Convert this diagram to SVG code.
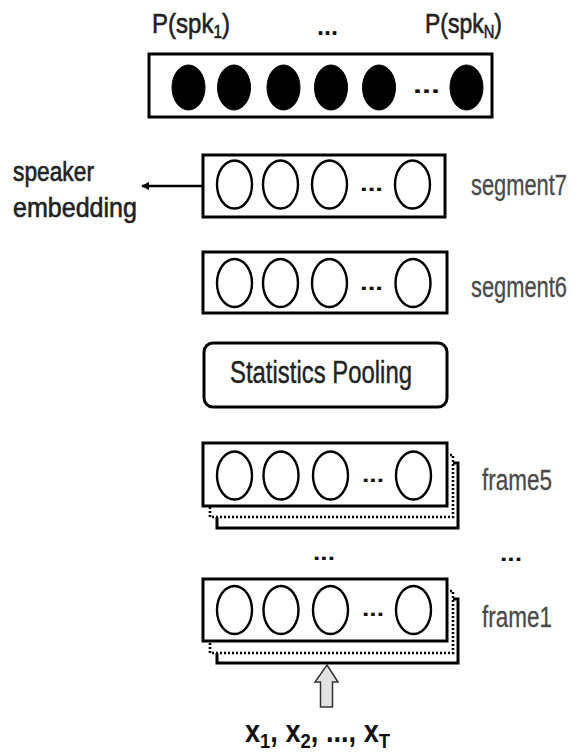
<svg xmlns="http://www.w3.org/2000/svg" width="573" height="756" viewBox="0 0 573 756">
<style>
.box{fill:#fff;stroke:#000;stroke-width:3}
.dot{fill:#fff;stroke:#000;stroke-width:2.6;stroke-dasharray:2 2}
.c{fill:#fff;stroke:#000;stroke-width:2.4}
.cb{fill:#000;stroke:#000;stroke-width:1}
.lbl{font-family:"Liberation Sans",Arial,sans-serif;fill:#4a4a4a;stroke:#4a4a4a;stroke-width:0.3}
.dk{font-family:"Liberation Sans",Arial,sans-serif;fill:#222;stroke:#222;stroke-width:0.6}
.dd{font-family:"Liberation Sans",Arial,sans-serif;font-weight:bold;fill:#111}
</style>
<defs>
<marker id="ah" viewBox="0 0 10 10" refX="9" refY="5" markerWidth="8" markerHeight="8" orient="auto" markerUnits="userSpaceOnUse">
<path d="M0,0 L10,5 L0,10 z" fill="#000"/>
</marker>
</defs>

<g id="output">
<text class="dk" x="152" y="33" font-size="28" textLength="78" lengthAdjust="spacingAndGlyphs">P(spk<tspan font-size="18" dy="5">1</tspan><tspan dy="-5">)</tspan></text>
<text class="dd" x="317" y="35" font-size="26" textLength="21" lengthAdjust="spacingAndGlyphs">...</text>
<text class="dk" x="425" y="33" font-size="28" textLength="77" lengthAdjust="spacingAndGlyphs">P(spk<tspan font-size="18" dy="5">N</tspan><tspan dy="-5">)</tspan></text>
<rect class="box" x="149" y="54" width="343" height="63"/>
<ellipse class="cb" cx="188.5" cy="87.5" rx="16.5" ry="22.5"/>
<ellipse class="cb" cx="234" cy="87.5" rx="16.5" ry="22.5"/>
<ellipse class="cb" cx="283.5" cy="87.5" rx="16.5" ry="22.5"/>
<ellipse class="cb" cx="331" cy="87.5" rx="16.5" ry="22.5"/>
<ellipse class="cb" cx="379" cy="87.5" rx="16.5" ry="22.5"/>
<text class="dd" x="413" y="93" font-size="24" textLength="27" lengthAdjust="spacingAndGlyphs">...</text>
<ellipse class="cb" cx="466.5" cy="87.5" rx="16.5" ry="22.5"/>
</g>

<g id="segment7">
<rect class="box" x="203" y="155" width="242" height="62"/>
<ellipse class="c" cx="234.5" cy="184.5" rx="17.5" ry="24"/>
<ellipse class="c" cx="280.5" cy="184.5" rx="17.5" ry="24"/>
<ellipse class="c" cx="329.5" cy="184.5" rx="17.5" ry="24"/>
<text class="dd" x="360" y="191" font-size="22" textLength="23" lengthAdjust="spacingAndGlyphs">...</text>
<ellipse class="c" cx="412.5" cy="184.5" rx="17.5" ry="24"/>
<text class="lbl" x="471" y="195" font-size="29" textLength="96" lengthAdjust="spacingAndGlyphs">segment7</text>
</g>

<g id="embedding">
<text class="dk" x="13" y="181" font-size="27" textLength="81" lengthAdjust="spacingAndGlyphs" fill="#333">speaker</text>
<text class="dk" x="13" y="217" font-size="27" textLength="124" lengthAdjust="spacingAndGlyphs" fill="#333">embedding</text>
</g>

<g id="segment6">
<rect class="box" x="203" y="252" width="244" height="61"/>
<ellipse class="c" cx="234.5" cy="283" rx="17.5" ry="24"/>
<ellipse class="c" cx="280.5" cy="283" rx="17.5" ry="24"/>
<ellipse class="c" cx="329.5" cy="283" rx="17.5" ry="24"/>
<text class="dd" x="360" y="290" font-size="22" textLength="23" lengthAdjust="spacingAndGlyphs">...</text>
<ellipse class="c" cx="413" cy="283" rx="17.5" ry="24"/>
<text class="lbl" x="471" y="297" font-size="29" textLength="96" lengthAdjust="spacingAndGlyphs">segment6</text>
</g>

<g id="pooling">
<rect class="box" x="204" y="343" width="243" height="64" rx="9"/>
<text class="dk" x="230" y="383" font-size="31" textLength="182" lengthAdjust="spacingAndGlyphs" style="stroke-width:0.4">Statistics Pooling</text>
</g>

<g id="frame5">
<rect class="box" x="217" y="463" width="241" height="65"/>
<rect class="dot" x="210" y="455" width="243" height="62"/>
<rect class="box" x="203" y="443" width="244" height="63"/>
<ellipse class="c" cx="234.5" cy="475.5" rx="17.5" ry="24"/>
<ellipse class="c" cx="281" cy="475.5" rx="17.5" ry="24"/>
<ellipse class="c" cx="330.5" cy="475.5" rx="17.5" ry="24"/>
<text class="dd" x="362" y="482" font-size="22" textLength="22" lengthAdjust="spacingAndGlyphs">...</text>
<ellipse class="c" cx="413.5" cy="475.5" rx="17.5" ry="24"/>
<text class="lbl" x="482" y="490" font-size="29" textLength="70" lengthAdjust="spacingAndGlyphs">frame5</text>
</g>

<g id="ellipsis">
<text class="dd" x="313" y="560" font-size="22" textLength="22" lengthAdjust="spacingAndGlyphs">...</text>
<text class="dd" x="500" y="561" font-size="22" textLength="22" lengthAdjust="spacingAndGlyphs">...</text>
</g>

<g id="frame1">
<rect class="box" x="217" y="599" width="241" height="64"/>
<rect class="dot" x="210" y="591" width="243" height="62"/>
<rect class="box" x="203" y="579" width="244" height="62"/>
<ellipse class="c" cx="234.5" cy="610" rx="17.5" ry="24"/>
<ellipse class="c" cx="281" cy="610" rx="17.5" ry="24"/>
<ellipse class="c" cx="330.5" cy="610" rx="17.5" ry="24"/>
<text class="dd" x="362" y="616" font-size="22" textLength="22" lengthAdjust="spacingAndGlyphs">...</text>
<ellipse class="c" cx="413.5" cy="610" rx="17.5" ry="24"/>
<text class="lbl" x="482" y="627" font-size="29" textLength="70" lengthAdjust="spacingAndGlyphs">frame1</text>
</g>

<g id="input">
<text class="dd" x="245" y="742" font-size="31" textLength="145" lengthAdjust="spacingAndGlyphs">x<tspan font-size="21" dy="6">1</tspan><tspan dy="-6">, x</tspan><tspan font-size="21" dy="6">2</tspan><tspan dy="-6">, ..., x</tspan><tspan font-size="21" dy="6">T</tspan></text>
</g>

<g id="connectors">
<line x1="203" y1="186" x2="142" y2="186" stroke="#000" stroke-width="2.4" marker-end="url(#ah)"/>
<path d="M327,665 L338,682 L332.5,682 L332.5,707 L320.5,707 L320.5,682 L315,682 Z" fill="#e2e2e2" stroke="#333" stroke-width="1.5" stroke-linejoin="miter"/>
</g>
</svg>
